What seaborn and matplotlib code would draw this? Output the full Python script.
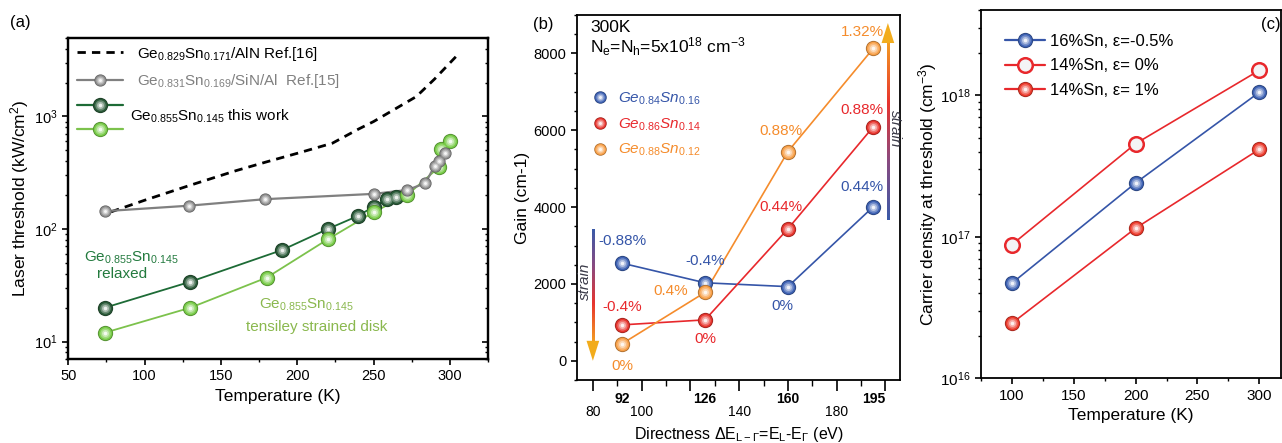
import numpy as np
import matplotlib
matplotlib.use("Agg")
import matplotlib.pyplot as plt
import seaborn as sns
from matplotlib.colors import to_rgb, LinearSegmentedColormap
from matplotlib.lines import Line2D
from matplotlib.patches import Polygon
from matplotlib.ticker import MultipleLocator, NullFormatter, LogLocator
from matplotlib.transforms import blended_transform_factory

# ---------------- panel (a): laser threshold vs temperature
ref16_T = [78, 100, 130, 160, 180, 200, 223, 240, 250, 260, 278, 290, 304]
ref16_P = [142, 180, 245, 330, 395, 470, 578, 770, 900, 1080, 1500, 2150, 3400]

ref15_T = [74, 129, 179, 250, 272, 284, 290, 293, 297]
ref15_P = [144, 161, 184, 205, 222, 255, 365, 402, 471]

relaxed_T = [74, 130, 190, 220, 240, 250, 259, 265]
relaxed_P = [20, 34, 65, 100, 131, 158, 184, 192]

strained_T = [74, 130, 180, 220, 250, 272, 293, 294, 300]
strained_P = [12, 20, 37, 81, 141, 200, 355, 510, 610]

# ---------------- panel (b): gain vs directness
directness = [92, 126, 160, 195]
directness_labels = ["92", "126", "160", "195"]
gain_ge84 = [2540, 2030, 1930, 4010]
gain_ge86 = [935, 1065, 3435, 6090]
gain_ge88 = [445, 1780, 5445, 8130]
strain_ge84 = ["-0.88%", "-0.4%", "0%", "0.44%"]
strain_ge86 = ["-0.4%", "0%", "0.44%", "0.88%"]
strain_ge88 = ["0%", "0.4%", "0.88%", "1.32%"]

# ---------------- panel (c): carrier density at threshold
temps_c = [100, 200, 300]
n_16sn_m05 = [4.7e16, 2.4e17, 1.05e18]
n_14sn_0 = [8.8e16, 4.55e17, 1.5e18]
n_14sn_1 = [2.45e16, 1.15e17, 4.15e17]

BLUE = "#3555a8"
RED = "#e8282c"
ORANGE = "#f58c2c"
DKGREEN = "#1d6b36"
LTGREEN = "#7cc24c"
GRAY = "#808080"

sns.set_theme(style="ticks")
plt.rcParams["font.family"] = ["Liberation Sans", "DejaVu Sans"]
plt.rcParams.update({
    "mathtext.fontset": "custom",
    "mathtext.rm": "Liberation Sans",
    "mathtext.it": "Liberation Sans:italic",
    "mathtext.bf": "Liberation Sans:bold",
    "mathtext.sf": "Liberation Sans",
    "axes.edgecolor": "black",
    "axes.linewidth": 1.3,
    "xtick.color": "black",
    "ytick.color": "black",
    "text.color": "black",
    "axes.labelcolor": "black",
})


def ball_layers(color, d):
    base = np.array(to_rgb(color))
    out = []
    for f, w in [(1.0, -0.3), (0.88, 0.0), (0.68, 0.3), (0.46, 0.6), (0.24, 0.92)]:
        c = base * (1 + w) if w < 0 else base * (1 - w) + w
        out.append((d * f, np.clip(c, 0, 1)))
    return out


def draw_balls(ax, x, y, color, d, z=5):
    for i, (di, c) in enumerate(ball_layers(color, d)):
        ax.scatter(x, y, s=di ** 2, color=c, linewidths=0, zorder=z + 0.01 * i)


def ball_handle(color, d, line_color=None, lw=1.5):
    parts = []
    if line_color:
        parts.append(Line2D([], [], color=line_color, lw=lw))
    for di, c in ball_layers(color, d):
        parts.append(Line2D([], [], ls="", marker="o", ms=di, mfc=c, mec=c, mew=0))
    return tuple(parts)


STRAIN_CMAP = LinearSegmentedColormap.from_list(
    "strain", ["#3a5aa8", "#8a4a80", "#e8342e", "#f39a22"])


def gradient_arrow(ax, x, y_start, y_end, head_len, half_w, bar_w):
    # colour runs blue at y_start -> orange at y_end, head beyond y_end
    n = 200
    cols = STRAIN_CMAP(np.linspace(0, 1, n))[:, :3]
    lo, hi = min(y_start, y_end), max(y_start, y_end)
    if y_end < y_start:
        cols = cols[::-1]
    ax.imshow(cols.reshape(n, 1, 3), extent=[x - bar_w, x + bar_w, lo, hi], origin="lower",
              aspect="auto", interpolation="bilinear", zorder=3)
    sign = 1 if y_end > y_start else -1
    tri = Polygon([(x - half_w, y_end), (x + half_w, y_end), (x, y_end + sign * head_len)],
                  closed=True, color="#f2ac1c", lw=0, zorder=3)
    ax.add_patch(tri)


fig = plt.figure(figsize=(12.82, 4.43), dpi=100)

# ======================= (a)
axa = fig.add_axes([0.0533, 0.1896, 0.3274, 0.7253])
sns.lineplot(x=ref16_T, y=ref16_P, color="black", lw=2.0, linestyle=(0, (3, 2.2)),
             sort=False, estimator=None, ax=axa)
sns.lineplot(x=ref15_T, y=ref15_P, color=GRAY, lw=1.6, sort=False, estimator=None, ax=axa, zorder=4)
sns.lineplot(x=relaxed_T, y=relaxed_P, color=DKGREEN, lw=1.3, sort=False, estimator=None, ax=axa)
sns.lineplot(x=strained_T, y=strained_P, color=LTGREEN, lw=1.3, sort=False, estimator=None, ax=axa)
draw_balls(axa, relaxed_T, relaxed_P, "#2a5a38", 11, z=5)
draw_balls(axa, strained_T, strained_P, "#78cc48", 11, z=6)
draw_balls(axa, ref15_T, ref15_P, "#8c8c8c", 8.8, z=7)
axa.set_yscale("log")
axa.set_xlim(50, 325)
axa.set_ylim(7, 5000)
axa.xaxis.set_major_locator(MultipleLocator(50))
axa.xaxis.set_minor_locator(MultipleLocator(25))
axa.yaxis.set_minor_locator(LogLocator(base=10, subs=np.arange(2, 10)))
axa.yaxis.set_minor_formatter(NullFormatter())
axa.tick_params(which="major", length=4, width=1.2, labelsize=10.5)
axa.tick_params(which="minor", length=2.2, width=1.0)
axr = axa.twinx()
axr.set_yscale("log")
axr.set_ylim(axa.get_ylim())
axr.yaxis.set_minor_locator(LogLocator(base=10, subs=np.arange(2, 10)))
axr.yaxis.set_minor_formatter(NullFormatter())
axr.tick_params(axis="y", which="major", direction="in", length=4, width=1.2, labelright=False)
axr.tick_params(axis="y", which="minor", direction="in", length=2.2, width=1.0)
for sp in list(axa.spines.values()) + list(axr.spines.values()):
    sp.set_linewidth(1.6)
axa.set_xlabel("Temperature (K)", fontsize=12.5)
axa.set_ylabel("Laser threshold (kW/cm$^2$)", fontsize=12.5, labelpad=2)

handles_a = [
    Line2D([], [], color="black", lw=2.0, ls=(0, (3, 2.2))),
    ball_handle("#8c8c8c", 8.8, GRAY, 1.6),
    ball_handle("#2a5a38", 11, DKGREEN, 1.6),
    ball_handle("#78cc48", 11, LTGREEN, 1.6),
]
labels_a = ["Ge$_{0.829}$Sn$_{0.171}$/AlN Ref.[16]",
            "Ge$_{0.831}$Sn$_{0.169}$/SiN/Al  Ref.[15]", " ", " "]
leg = axa.legend(handles_a, labels_a, loc="upper left", bbox_to_anchor=(-0.005, 1.012),
                 frameon=False, fontsize=11, handlelength=3.0, handletextpad=0.9,
                 labelspacing=0.62, borderaxespad=0.3)
leg.get_texts()[1].set_color(GRAY)
axa.text(0.147, 0.754, "Ge$_{0.855}$Sn$_{0.145}$ this work", transform=axa.transAxes,
         fontsize=11, va="center", ha="left")
axa.text(91.5, 55, "Ge$_{0.855}$Sn$_{0.145}$", color="#237a3e", fontsize=11, ha="center", va="center")
axa.text(85, 40, "relaxed", color="#237a3e", fontsize=11, ha="center", va="center")
axa.text(206, 21, "Ge$_{0.855}$Sn$_{0.145}$", color="#8ab84e", fontsize=11, ha="center", va="center")
axa.text(213, 13.6, "tensiley strained disk", color="#8ab84e", fontsize=11, ha="center", va="center")
fig.text(20 / 1282, 1 - 22 / 443, "(a)", fontsize=12, ha="center", va="center")

# ======================= (b)
axb = fig.add_axes([0.4501, 0.1422, 0.252, 0.824])
series_b = [
    (gain_ge84, strain_ge84, BLUE, "#3e62b4", r"$\mathit{Ge_{0.84}Sn_{0.16}}$",
     [(0, 16), (0, 16), (-4, -14), (-8, 14)]),
    (gain_ge86, strain_ge86, RED, "#e8352e", r"$\mathit{Ge_{0.86}Sn_{0.14}}$",
     [(0, 13), (0, -14), (-5, 16), (-8, 12)]),
    (gain_ge88, strain_ge88, ORANGE, "#f8a048", r"$\mathit{Ge_{0.88}Sn_{0.12}}$",
     [(0, -16), (-25, 1), (-5, 15), (-8, 12)]),
]
handles_b, labels_b = [], []
for k, (gain, labs, lc, bc, name, offs) in enumerate(series_b):
    sns.lineplot(x=directness, y=gain, color=lc, lw=1.2, sort=False, estimator=None, ax=axb)
    draw_balls(axb, directness, gain, bc, 11, z=5 + k)
    for xv, yv, lab, off in zip(directness, gain, labs, offs):
        axb.annotate(lab, (xv, yv), xytext=off, textcoords="offset points",
                     color=lc, fontsize=11, ha="center", va="center")
    handles_b.append(ball_handle(bc, 9))
    labels_b.append(name)
legb = axb.legend(handles_b, labels_b, loc="upper left", bbox_to_anchor=(0.0, 0.83),
                  frameon=False, fontsize=11, handlelength=1.2, handletextpad=0.6,
                  labelspacing=0.6)
for t, s in zip(legb.get_texts(), series_b):
    t.set_color(s[2])

gradient_arrow(axb, 80, 3430, 520, 520, 2.6, 0.55)
gradient_arrow(axb, 201, 3670, 8270, 520, 2.6, 0.55)
axb.text(76.6, 2060, "strain", rotation=90, style="italic", color="#3a3a48",
         fontsize=11, ha="center", va="center")
axb.text(204.0, 6050, "strain", rotation=270, style="italic", color="#3a3a48",
         fontsize=11, ha="center", va="center")

axb.set_xlim(73.5, 206)
axb.set_ylim(-500, 9000)
axb.set_xticks([80, 100, 120, 140, 160, 180, 200])
axb.set_xticklabels(["80", "100", "", "140", "", "180", ""])
axb.xaxis.set_minor_locator(MultipleLocator(10))
axb.yaxis.set_major_locator(MultipleLocator(2000))
axb.yaxis.set_minor_locator(MultipleLocator(500))
axb.tick_params(axis="x", which="major", length=8, width=1.2, labelsize=10, pad=10)
axb.tick_params(axis="x", which="minor", length=4, width=1.0)
axb.tick_params(axis="y", which="major", length=4, width=1.2, labelsize=10.5)
axb.tick_params(axis="y", which="minor", length=2.5, width=1.0)
tb = blended_transform_factory(axb.transData, axb.transAxes)
for xv, lab in zip(directness, directness_labels):
    axb.text(xv, -0.052, lab, transform=tb, fontsize=10, fontweight="bold",
             ha="center", va="center")
axb.set_ylabel("Gain (cm-1)", fontsize=12.5, labelpad=3)
axb.set_xlabel(r"Directness $\Delta$E$_{\mathrm{L-\Gamma}}$=E$_\mathrm{L}$-E$_\Gamma$ (eV)",
               fontsize=11.5, labelpad=4)
axb.text(0.04, 0.965, "300K", transform=axb.transAxes, fontsize=12.5, va="center")
axb.text(0.04, 0.912, "N$_\\mathrm{e}$=N$_\\mathrm{h}$=5x10$^{18}$ cm$^{-3}$",
         transform=axb.transAxes, fontsize=12.5, va="center")
fig.text(543 / 1282, 1 - 24 / 443, "(b)", fontsize=12, ha="center", va="center")

# ======================= (c)
axc = fig.add_axes([0.7652, 0.146, 0.2340, 0.8314])
sns.lineplot(x=temps_c, y=n_16sn_m05, color=BLUE, lw=1.2, ax=axc)
sns.lineplot(x=temps_c, y=n_14sn_0, color=RED, lw=1.2, ax=axc)
sns.lineplot(x=temps_c, y=n_14sn_1, color=RED, lw=1.2, ax=axc)
draw_balls(axc, temps_c, n_16sn_m05, "#3e62b4", 11, z=5)
axc.scatter(temps_c, n_14sn_0, s=10.5 ** 2, facecolor="#f4f4f6", edgecolor=RED,
            linewidths=1.8, zorder=6)
draw_balls(axc, temps_c, n_14sn_1, "#ec3a2c", 11, z=7)
axc.set_yscale("log")
axc.set_xlim(75, 317.5)
axc.set_ylim(1e16, 4e18)
axc.xaxis.set_major_locator(MultipleLocator(50))
axc.xaxis.set_minor_locator(MultipleLocator(25))
axc.yaxis.set_minor_locator(LogLocator(base=10, subs=np.arange(2, 10)))
axc.yaxis.set_minor_formatter(NullFormatter())
axc.tick_params(which="major", length=4, width=1.2, labelsize=11)
axc.tick_params(which="minor", length=2.2, width=1.0)
axc.set_xlabel("Temperature (K)", fontsize=12.5)
axc.set_ylabel("Carrier density at threshold (cm$^{-3}$)", fontsize=12.5, labelpad=1)
open_handle = (Line2D([], [], color=RED, lw=1.6),
               Line2D([], [], ls="", marker="o", ms=10.5, mfc="#f4f4f6", mec=RED, mew=1.8))
handles_c = [ball_handle("#3e62b4", 11, BLUE, 1.6), open_handle,
             ball_handle("#ec3a2c", 11, RED, 1.6)]
labels_c = ["16%Sn, ε=-0.5%", "14%Sn, ε= 0%", "14%Sn, ε= 1%"]
axc.legend(handles_c, labels_c, loc="upper left", bbox_to_anchor=(0.03, 0.975),
           frameon=False, fontsize=12, handlelength=2.4, handletextpad=0.3,
           labelspacing=0.55)
fig.text(1271 / 1282, 1 - 24 / 443, "(c)", fontsize=12, ha="center", va="center")

fig.savefig("out.png", dpi=100)
